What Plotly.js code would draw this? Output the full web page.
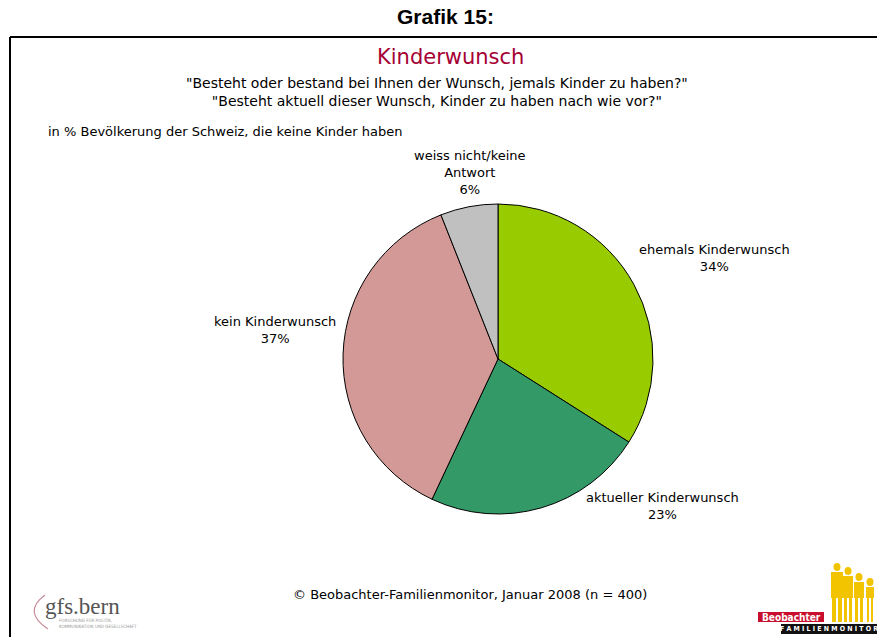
<!DOCTYPE html>
<html>
<head>
<meta charset="utf-8">
<script src="https://cdn.plot.ly/plotly-3.0.1.min.js"></script>
<style>
  body { margin: 0; background: #fff; }
  #chart { width: 877px; height: 637px; }
</style>
</head>
<body>
<div id="chart"></div>
<script>
// Data
const labels = ['ehemals Kinderwunsch', 'aktueller Kinderwunsch', 'kein Kinderwunsch', 'weiss nicht/keine<br>Antwort'];
const values = [34, 23, 37, 6];
const sliceColors = ['#99CC00', '#339966', '#D39996', '#C0C0C0'];

// label positions (paper px) for the outside texts
const labelPos = [[714, 258], [662, 506], [275, 330], [470, 172]];

const W = 877, H = 637;
const px = x => x / W;
const py = y => 1 - y / H;

const pie = {
  type: 'pie',
  labels: labels,
  values: values,
  sort: false,
  direction: 'clockwise',
  rotation: 0,
  textinfo: 'none',
  hoverinfo: 'label+percent',
  marker: { colors: sliceColors, line: { color: '#000', width: 1 } },
  domain: { x: [px(343), px(653)], y: [py(514), py(204)] },
  showlegend: false
};

const baseFont = { family: 'DejaVu Sans, Verdana, sans-serif', size: 13, color: '#000' };

function note(x, y, text, font, extra) {
  return Object.assign({
    x: px(x), y: py(y), xref: 'paper', yref: 'paper', text: text, showarrow: false,
    font: font, xanchor: 'center', yanchor: 'middle', align: 'center'
  }, extra || {});
}

const annotations = labels.map((l, i) =>
  note(labelPos[i][0], labelPos[i][1], l + '<br>' + values[i] + '%', baseFont));

annotations.push(
  note(445, 17, '<b>Grafik 15:</b>', { family: 'Liberation Sans Narrow, Liberation Sans, sans-serif', size: 21, color: '#000' }),
  note(450, 57, 'Kinderwunsch', { family: 'DejaVu Sans, sans-serif', size: 21, color: '#A50034' }),
  note(437, 92, '"Besteht oder bestand bei Ihnen der Wunsch, jemals Kinder zu haben?"<br>"Besteht aktuell dieser Wunsch, Kinder zu haben nach wie vor?"',
    { family: 'DejaVu Sans, sans-serif', size: 14, color: '#000' }),
  note(46, 131, 'in % Bevölkerung der Schweiz, die keine Kinder haben', baseFont, { xanchor: 'left' }),
  note(470, 594, '© Beobachter-Familienmonitor, Januar 2008 (n = 400)', baseFont),
  // gfs.bern logo
  note(43, 606, 'gfs.bern', { family: 'Liberation Serif, serif', size: 23, color: '#555' }, { xanchor: 'left' }),
  note(57, 623, 'FORSCHUNG FÜR POLITIK,<br>KOMMUNIKATION UND GESELLSCHAFT',
    { family: 'DejaVu Sans Condensed, sans-serif', size: 4.5, color: '#999' }, { xanchor: 'left', align: 'left' }),
  // Beobachter logo
  note(791, 617, '<b>Beobachter</b>', { family: 'DejaVu Sans Condensed, sans-serif', size: 10, color: '#fff' }),
  note(829, 629, '<b>F A M I L I E N M O N I T O R</b>', { family: 'DejaVu Sans Condensed, sans-serif', size: 7, color: '#fff' })
);

const shapes = [
  // frame
  { type: 'line', xref: 'paper', yref: 'paper', x0: px(10), x1: 1.01, y0: py(37), y1: py(37), line: { color: '#000', width: 2 } },
  { type: 'line', xref: 'paper', yref: 'paper', x0: px(10), x1: px(10), y0: py(37), y1: -0.01, line: { color: '#000', width: 2 } },
  // gfs arc
  { type: 'path', xref: 'paper', yref: 'paper', path: `M ${px(45)} ${py(595)} Q ${px(22)} ${py(612)} ${px(48)} ${py(629)}`, line: { color: '#C88C9A', width: 1.2 } }
];

// yellow figures (head centre x, head centre y, body half width)
const figs = [[837, 567, 6], [848, 571, 5], [859, 577, 5], [870, 582, 4]];
figs.forEach(f => {
  // body: shoulders then legs
  shapes.push({ type: 'rect', xref: 'paper', yref: 'paper', x0: px(f[0] - f[2]), x1: px(f[0] + f[2]), y0: py(f[1] + 5), y1: py(598), fillcolor: '#F2C400', line: { width: 0 } });
  shapes.push({ type: 'rect', xref: 'paper', yref: 'paper', x0: px(f[0] - f[2] + 1), x1: px(f[0] - 1), y0: py(598), y1: py(622), fillcolor: '#F2C400', line: { width: 0 } });
  shapes.push({ type: 'rect', xref: 'paper', yref: 'paper', x0: px(f[0] + 1), x1: px(f[0] + f[2] - 1), y0: py(598), y1: py(622), fillcolor: '#F2C400', line: { width: 0 } });
  shapes.push({ type: 'circle', xref: 'paper', yref: 'paper', x0: px(f[0] - 3.5), x1: px(f[0] + 3.5), y0: py(f[1] - 4), y1: py(f[1] + 4), fillcolor: '#F2C400', line: { width: 0 } });
});
shapes.push(
  { type: 'rect', xref: 'paper', yref: 'paper', x0: px(758), x1: px(824), y0: py(622), y1: py(612), fillcolor: '#C8102E', line: { width: 0 } },
  { type: 'rect', xref: 'paper', yref: 'paper', x0: px(781), x1: 1, y0: py(634), y1: py(624), fillcolor: '#111', line: { width: 0 } }
);

const layout = {
  width: W, height: H,
  margin: { l: 0, r: 0, t: 0, b: 0 },
  paper_bgcolor: '#fff',
  annotations: annotations,
  shapes: shapes
};

Plotly.newPlot('chart', [pie], layout, { displayModeBar: false, staticPlot: true });
</script>
</body>
</html>
